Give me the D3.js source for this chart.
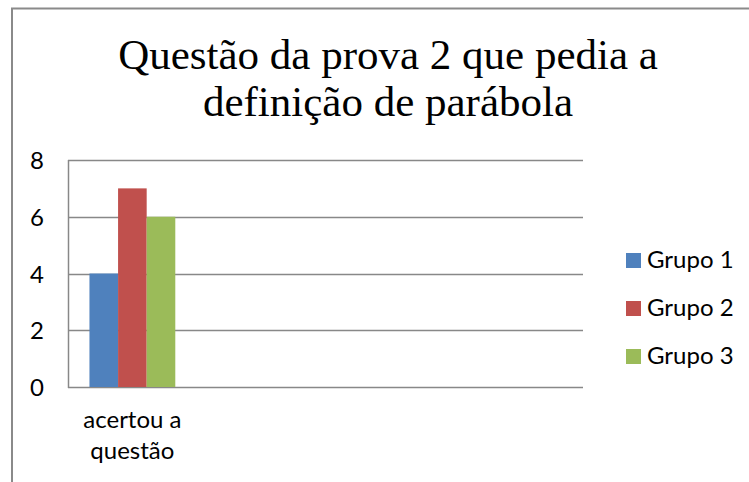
<!DOCTYPE html>
<html>
<head>
<meta charset="utf-8">
<script src="https://cdn.jsdelivr.net/npm/d3@7"></script>
<style>
  html, body { margin: 0; padding: 0; background: #fff; }
  svg { display: block; }
</style>
</head>
<body>
<svg id="chart" width="749" height="482"></svg>
<script>
// Chart data
const titleLines = ["Questão da prova 2 que pedia a", "definição de parábola"];
const categories = ["acertou a questão", "cat2", "cat3", "cat4"];
const categoryLabels = [["acertou a", "questão"], [], [], []];
const seriesNames = ["Grupo 1", "Grupo 2", "Grupo 3"];
const grupo1 = [4, null, null, null];
const grupo2 = [7, null, null, null];
const grupo3 = [6, null, null, null];
const yTicks = [0, 2, 4, 6, 8];

const seriesValues = [grupo1, grupo2, grupo3];
const colors = ["#4F81BD", "#C0504D", "#9BBB59"];
const gridColor = "#888888";
const sansFont = "Lato, 'Open Sans', sans-serif";
const sansSize = 24;

const svg = d3.select("#chart");

// Outer chart frame (extends past the window on the right and bottom)
svg.append("rect")
  .attr("x", 12).attr("y", 8.5)
  .attr("width", 800).attr("height", 600)
  .attr("fill", "none")
  .attr("stroke", "#8a8a8a")
  .attr("stroke-width", 2);

// Title
const title = svg.append("text")
  .attr("text-anchor", "middle")
  .attr("font-family", "'Liberation Serif', 'Times New Roman', serif")
  .attr("font-size", 43)
  .attr("fill", "#000");
titleLines.forEach((line, i) => {
  title.append("tspan").attr("x", 388).attr("y", 69 + i * 47).text(line);
});

// Plot area
const plot = { left: 68, right: 583, top: 160, bottom: 387 };

const x = d3.scaleBand()
  .domain(categories)
  .range([plot.left, plot.right])
  .paddingInner(0)
  .paddingOuter(0);

// Each category holds 3 bars plus a 150% gap (0.75 bar width on each side)
const barW = x.bandwidth() / 4.5;
const barX = (ci, si) => x(categories[ci]) + 0.75 * barW + si * barW;

const y = d3.scaleLinear().domain([0, 8]).range([plot.bottom, plot.top]);

// Gridlines
svg.append("g")
  .selectAll("line")
  .data(yTicks)
  .join("line")
  .attr("x1", plot.left).attr("x2", plot.right)
  .attr("y1", d => Math.round(y(d)) + 0.5)
  .attr("y2", d => Math.round(y(d)) + 0.5)
  .attr("stroke", gridColor)
  .attr("stroke-width", 1.5);

// Bars
seriesValues.forEach((vals, si) => {
  svg.append("g")
    .selectAll("rect")
    .data(vals.map((v, ci) => ({ v, ci })).filter(d => d.v != null))
    .join("rect")
    .attr("x", d => barX(d.ci, si))
    .attr("width", barW)
    .attr("y", d => y(d.v))
    .attr("height", d => y(0) - y(d.v))
    .attr("fill", colors[si]);
});

// Value axis line
svg.append("line")
  .attr("x1", plot.left + 0.5).attr("x2", plot.left + 0.5)
  .attr("y1", plot.top).attr("y2", plot.bottom + 1)
  .attr("stroke", gridColor)
  .attr("stroke-width", 1.5);

// Y-axis tick labels
const yAxis = d3.axisLeft(y).tickValues(yTicks).tickSize(0).tickPadding(0).tickFormat(d3.format("d"));
const yg = svg.append("g")
  .attr("transform", `translate(44,0)`)
  .call(yAxis);
yg.select(".domain").remove();
yg.selectAll("text")
  .attr("font-family", sansFont)
  .attr("font-size", sansSize)
  .attr("fill", "#000")
  .attr("dy", "0.36em");

// Category labels
const catG = svg.append("g");
categories.forEach((c, ci) => {
  const t = catG.append("text")
    .attr("text-anchor", "middle")
    .attr("font-family", sansFont)
    .attr("font-size", sansSize)
    .attr("fill", "#000");
  categoryLabels[ci].forEach((line, li) => {
    t.append("tspan")
      .attr("x", x(c) + x.bandwidth() / 2)
      .attr("y", 428 + li * 31)
      .text(line);
  });
});

// Legend
const legend = svg.append("g");
seriesNames.forEach((name, i) => {
  const gy = 253 + i * 48;
  legend.append("rect")
    .attr("x", 626).attr("y", gy)
    .attr("width", 15).attr("height", 15)
    .attr("fill", colors[i]);
  legend.append("text")
    .attr("x", 647).attr("y", gy + 15)
    .attr("font-family", sansFont)
    .attr("font-size", sansSize)
    .attr("fill", "#000")
    .text(name);
});
</script>
</body>
</html>
